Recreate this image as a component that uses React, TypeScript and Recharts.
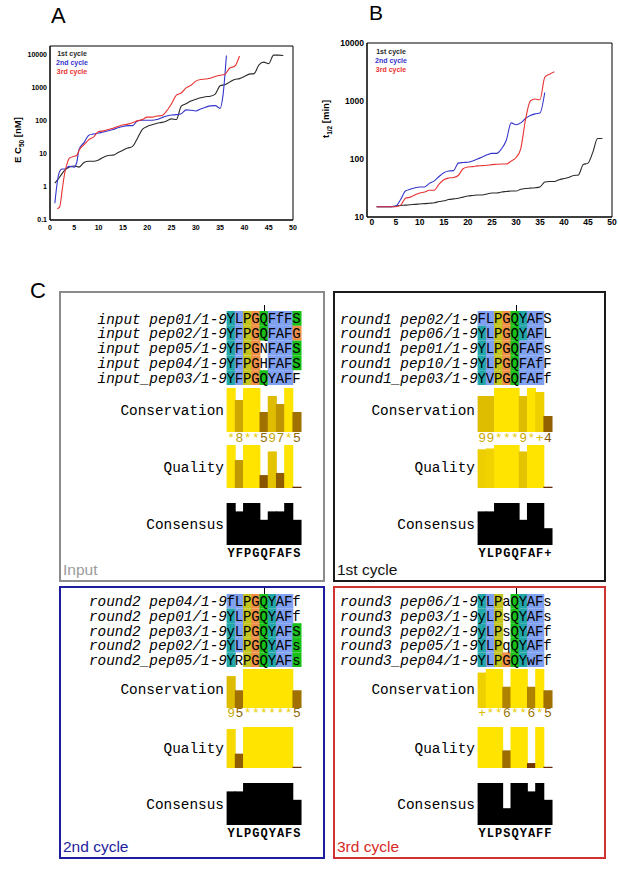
import React from 'react';
import { LineChart, Line, XAxis, YAxis, ReferenceArea, Legend, BarChart, Bar, Cell, LabelList } from 'recharts';

const SANS = '"Liberation Sans", Arial, sans-serif';
const MONO = '"Liberation Mono", "Courier New", monospace';

// ---------------- Panel A : EC50 [nM] ----------------
const aCycle1X = [1,2,3,4,5,6,7,8,9,10,11,12,13,14,15,16,17,18,19,20,21,22,23,24,25,26,27,28,29,30,31,32,33,34,35,36,37,38,39,40,41,42,43,44,45,46,47,48];
const aCycle1Y = [1.3,2.0,3.2,4.0,4.3,4.0,5.5,6.0,6.0,6.6,8.0,9.0,9.2,11,13,15,17,30,55,68,76,85,90,100,115,110,280,330,400,450,500,540,560,650,1150,1250,1500,1800,1900,2200,2600,2700,5000,6000,5400,9800,9800,9500];
const aCycle2X = [1,1.5,2,2.5,3,4,5,5.5,6,7,8,9,10,11,12,13,14,15,16,17,18,19,20,21,22,23,24,25,26,27,28,29,30,31,32,33,34,35,35.6,36.3];
const aCycle2Y = [0.32,1.4,3.0,3.5,3.5,4.2,4.0,5.5,14,22,37,40,43,46,50,55,62,68,72,72,100,105,105,105,110,125,140,150,155,165,215,210,200,230,260,285,290,240,600,9500];
const aCycle3X = [1.5,2,2.5,3,3.5,4,5,5.5,6,7,8,9,10,11,12,13,14,15,16,17,18,19,20,21,22,23,24,25,26,27,28,29,30,31,32,33,34,35,36,37,38,39];
const aCycle3Y = [0.22,0.25,0.8,2.5,5,7.5,8.5,9,13,19,27,33,48,50,55,60,68,75,80,88,100,110,130,130,140,145,200,330,600,700,1000,1200,1600,1800,1850,1950,2200,2400,2600,4000,4500,9200];
const aXTicks = [0,5,10,15,20,25,30,35,40,45,50];
const aYTicks = [0.1,1,10,100,1000,10000];

// ---------------- Panel B : t1/2 [min] ----------------
const bCycle1X = [1,2,3,4,5,6,7,8,9,10,11,12,13,14,15,16,17,18,19,20,21,22,23,24,25,26,27,28,29,30,31,32,33,34,35,36,37,38,39,40,41,42,43,44,45,46,47,48];
const bCycle1Y = [15,15,15,15,15.5,15.8,16,16.3,16.5,16.8,17,17.3,17.6,18.5,19,20,20.5,21,22,23,23.5,24,24,25,26,26,27,27.5,28,28,30,31,31.5,32,33,40,41,41,44,46,48,52,53,80,85,130,225,225];
const bCycle2X = [1,2,3,4,5,6,7,8,9,10,11,12,13,14,15,16,17,18,19,20,21,22,23,24,25,26,27,28,29,30,31,32,33,34,35,36];
const bCycle2Y = [15,15,15,15,15.5,20,28,30,32,33,33,38,42,50,58,62,63,85,87,88,92,100,108,118,125,125,150,210,420,390,420,500,560,600,620,1400];
const bCycle3X = [1,2,3,4,5,6,7,8,9,10,11,12,13,14,15,16,17,18,19,20,21,22,23,24,25,26,27,28,29,30,31,32,33,34,35,36,37,38];
const bCycle3Y = [15,15,15,15,15,16,21,22,24,26,27,29,29,37,44,47,48,52,68,73,74,76,77,78,80,81,82,82,92,105,150,480,1000,1080,1050,2550,2900,3200];
const bXTicks = [0,5,10,15,20,25,30,35,40,45,50];
const bYTicks = [10,100,1000,10000];

const cycleNames = ['1st cycle', '2nd cycle', '3rd cycle'];
const cycleColors = ['#2a2a2a', '#3535cc', '#e83232'];

// ---------------- Panel C : alignments ----------------
const inputNames = ['input pep01/1-9', 'input pep02/1-9', 'input pep05/1-9', 'input pep04/1-9', 'input_pep03/1-9'];
const inputSeqs = ['YLPGQFfFS', 'YFPGQFAFG', 'YFPGNFAFS', 'YFPGHFAFS', 'YFPGQYAFF'];
const inputColors = ['cbyogbbbg', 'cbyogbbbo', 'cbyowbbbg', 'cbyowbbbg', 'cbyogbbbw'];
const inputConservation = [11, 8, 11, 11, 5, 9, 7, 11, 5];
const inputConsLabels = '*8**597*5';
const inputQuality = [1, 0.65, 1, 1, 0.3, 0.85, 0.35, 1, 0.03];
const inputConsensus = [100, 80, 100, 100, 60, 80, 80, 100, 60];
const inputConsensusSeq = 'YFPGQFAFS';

const round1Names = ['round1 pep02/1-9', 'round1 pep06/1-9', 'round1 pep01/1-9', 'round1 pep10/1-9', 'round1_pep03/1-9'];
const round1Seqs = ['FLPGQYAFS', 'YLPGQYAFL', 'YLPGQFAFs', 'YLPGQFAfF', 'YVPGQFAFf'];
const round1Colors = ['bbyogcbbw', 'cbyogcbbw', 'cbyogbbbw', 'cbyogbbbw', 'cbyogbbbw'];
const round1Conservation = [9, 9, 11, 11, 11, 9, 11, 10, 4];
const round1ConsLabels = '99***9*+4';
const round1Quality = [0.9, 0.92, 1, 1, 1, 0.85, 1, 1, 0.03];
const round1Consensus = [80, 80, 100, 100, 100, 60, 100, 100, 40];
const round1ConsensusSeq = 'YLPGQFAF+';

const round2Names = ['round2 pep04/1-9', 'round2 pep01/1-9', 'round2 pep03/1-9', 'round2 pep02/1-9', 'round2_pep05/1-9'];
const round2Seqs = ['fLPGQYAFf', 'YLPGQYAFf', 'yLPGQYAFS', 'YLPGQYAFs', 'YRPGQYAFs'];
const round2Colors = ['bbyogcbbw', 'cbyogcbbw', 'cbyogcbbg', 'cbyogcbbg', 'cwyogcbbg'];
const round2Conservation = [9, 5, 11, 11, 11, 11, 11, 11, 5];
const round2ConsLabels = '95******5';
const round2Quality = [0.95, 0.35, 1, 1, 1, 1, 1, 1, 0.03];
const round2Consensus = [80, 80, 100, 100, 100, 100, 100, 100, 60];
const round2ConsensusSeq = 'YLPGQYAFS';

const round3Names = ['round3 pep06/1-9', 'round3 pep03/1-9', 'round3 pep02/1-9', 'round3 pep05/1-9', 'round3_pep04/1-9'];
const round3Seqs = ['YLPaQYAFs', 'yLPsQYAFs', 'yLPsQYAFf', 'YLPqQYAFf', 'YLPGQYwFf'];
const round3Colors = ['cbywgcbbw', 'cbywgcbbw', 'cbywgcbbw', 'cbywgcbbw', 'cbyogcbbw'];
const round3Conservation = [10, 11, 11, 6, 11, 11, 6, 11, 5];
const round3ConsLabels = '+**6**6*5';
const round3Quality = [1, 1, 1, 0.43, 1, 1, 0.12, 1, 0.03];
const round3Consensus = [100, 100, 100, 40, 100, 100, 80, 100, 60];
const round3ConsensusSeq = 'YLPSQYAFF';

const RESIDUE_COLOR: Record<string, string> = {
  c: '#22a6a8', b: '#80a0f0', y: '#c4c420', o: '#f09048', g: '#18c018', w: 'transparent',
};

function gradColor(f: number, dark = 1) {
  const t = Math.pow(Math.max(0, Math.min(1, f)), 1.2);
  const r = Math.round((100 + 155 * t) * dark);
  const g = Math.round((40 + 188 * t) * dark);
  return `rgb(${r},${g},0)`;
}

const zip = (xs: number[], ys: number[]) => xs.map((x, i) => ({ x, y: ys[i] }));

function LegendContent(props: any) {
  const payload = props.payload || [];
  return (
    <div style={{ fontFamily: SANS, fontSize: 7, fontWeight: 'bold', lineHeight: '9px', textAlign: 'center' }}>
      {payload.map((p: any) => (
        <div key={p.value} style={{ color: p.color }}>{p.value}</div>
      ))}
    </div>
  );
}

function LogPanel(props: any) {
  const { width, height, margin, yAxisWidth, xAxisHeight, xDomain, yDomain, xTicks, yTicks, series, legendStyle, fontSize } = props;
  const tickStyle = { fontSize, fontWeight: 'bold', fill: '#000', fontFamily: SANS };
  return (
    <LineChart width={width} height={height} margin={margin}>
      <XAxis type="number" dataKey="x" domain={xDomain} ticks={xTicks} allowDataOverflow interval={0}
        tickLine={false} tickSize={0} tickMargin={props.xTickMargin} axisLine={{ stroke: '#000' }} tick={tickStyle} height={xAxisHeight} />
      <YAxis type="number" scale="log" domain={yDomain} ticks={yTicks} allowDataOverflow interval={0}
        tickLine={false} tickSize={0} tickMargin={3} axisLine={{ stroke: '#000' }} tick={tickStyle} width={yAxisWidth}
        tickFormatter={(v: number) => String(v)} />
      <ReferenceArea x1={xDomain[0]} x2={xDomain[1]} y1={yDomain[0]} y2={yDomain[1]} fill="none" fillOpacity={0} stroke="#000" strokeWidth={1} />
      {series.map((s: any) => (
        <Line key={s.name} data={s.data} dataKey="y" name={s.name} stroke={s.color} strokeWidth={1.1}
          type="monotone" dot={false} activeDot={false} isAnimationActive={false} />
      ))}
      <Legend layout="vertical" align="center" verticalAlign="middle" content={LegendContent} wrapperStyle={legendStyle} />
    </LineChart>
  );
}

const CELL = 8.45;
const LABEL_W = 150;
const PAD = 5;

function LetterLabel(props: any) {
  const { x, y, width, height, value } = props;
  return (
    <text x={x + width / 2} y={y + height / 2} dy="0.36em" textAnchor="middle" fontFamily={MONO} fontSize={14} fill="#000">
      {value}
    </text>
  );
}

// bar shape that closes the sub-pixel seams between neighbouring columns
function SolidBar(props: any) {
  const { x, y, width, height, fill } = props;
  if (!fill || fill === 'transparent' || !height) return null;
  const top = Math.min(y, y + height);
  return <rect x={x - 0.4} y={top} width={width + 1.7} height={Math.abs(height)} fill={fill} />;
}

function SeqBox({ d, col, lay }: any) {
  const chartLeft = col.seqStart - LABEL_W;
  const chartW = LABEL_W + 9 * CELL;
  const idx = [0, 1, 2, 3, 4, 5, 6, 7, 8];
  const alignData = idx.map((c) => {
    const o: any = { col: c };
    d.seqs.forEach((s: string, r: number) => { o['r' + r] = 1; o['l' + r] = s[c]; });
    return o;
  });
  const consData = idx.map((c) => ({ col: c, v: d.conservation[c] }));
  const qualData = idx.map((c) => ({ col: c, v: d.quality[c] }));
  const conseData = idx.map((c) => ({ col: c, v: d.consensus[c] }));
  const rowLabelTick = { fontFamily: MONO, fontSize: 14.4, fill: '#000' };
  const margin = { top: PAD, right: 2, bottom: PAD, left: 0 };
  const marginNoBottom = { top: PAD, right: 2, bottom: 0, left: 0 };

  const ConsTick = (p: any) => {
    const c = p.payload.value;
    const v = d.conservation[c];
    return (
      <text x={p.x} y={p.y} dy={lay.consLabelDy} textAnchor="middle" fontFamily={MONO} fontSize={13} fill={gradColor(v / 11, 0.9)}>
        {d.consLabels[c]}
      </text>
    );
  };
  const SeqTick = (p: any) => {
    const c = p.payload.value;
    return (
      <text x={p.x} y={p.y} dy={12} textAnchor="middle" fontFamily={MONO} fontSize={12} fontWeight="bold" fill="#000">
        {d.consensusSeq[c]}
      </text>
    );
  };

  return (
    <>
      <div style={{ position: 'absolute', left: col.boxLeft, top: lay.boxTop, width: col.boxW, height: lay.boxH, border: `2px solid ${d.border}`, boxSizing: 'border-box' }} />
      <div style={{ position: 'absolute', left: col.boxLeft + 4, top: lay.titleTop, color: d.titleColor, fontFamily: SANS, fontSize: 15.5, lineHeight: '20px', whiteSpace: 'nowrap' }}>{d.title}</div>
      <div style={{ position: 'absolute', left: col.seqStart + 4.5 * CELL - 0.5, top: lay.tick, width: 1, height: lay.align - lay.tick, background: '#000' }} />

      <div style={{ position: 'absolute', left: chartLeft, top: lay.align - PAD }}>
        <BarChart width={chartW} height={lay.alignH + 2 * PAD} data={alignData} margin={margin} barCategoryGap={0} barGap={0}>
          <XAxis dataKey="col" type="category" hide />
          <YAxis type="number" domain={[0, 5]} reversed ticks={[0.5, 1.5, 2.5, 3.5, 4.5]} width={LABEL_W} interval={0}
            tickLine={false} axisLine={false} tickSize={0} tickMargin={0}
            tickFormatter={(v: number) => d.names[Math.floor(v)]}
            tick={{ ...rowLabelTick, fontStyle: 'italic' }} />
          {d.seqs.map((_: string, r: number) => (
            <Bar key={r} dataKey={'r' + r} stackId="aln" barSize={CELL} isAnimationActive={false} shape={SolidBar}>
              {alignData.map((_e: any, c: number) => (
                <Cell key={c} fill={RESIDUE_COLOR[d.colors[r][c]]} />
              ))}
              <LabelList dataKey={'l' + r} content={LetterLabel} />
            </Bar>
          ))}
        </BarChart>
      </div>

      <div style={{ position: 'absolute', left: chartLeft, top: lay.cons - PAD }}>
        <BarChart width={chartW} height={lay.consH + PAD + 18} data={consData} margin={marginNoBottom} barCategoryGap={0}>
          <XAxis dataKey="col" type="category" axisLine={false} tickLine={false} tickSize={0} tickMargin={0} height={18} interval={0} tick={ConsTick} />
          <YAxis type="number" domain={[0, 11]} ticks={[5.5]} width={LABEL_W} tickLine={false} axisLine={false} tickSize={0} tickMargin={3}
            tickFormatter={() => 'Conservation'} tick={rowLabelTick} />
          <Bar dataKey="v" barSize={CELL} isAnimationActive={false} shape={SolidBar}>
            {consData.map((e, c) => <Cell key={c} fill={gradColor(e.v / 11)} />)}
          </Bar>
        </BarChart>
      </div>

      <div style={{ position: 'absolute', left: chartLeft, top: lay.qual - PAD }}>
        <BarChart width={chartW} height={lay.qualH + 2 * PAD} data={qualData} margin={margin} barCategoryGap={0}>
          <XAxis dataKey="col" type="category" hide />
          <YAxis type="number" domain={[0, 1]} ticks={[0.5]} width={LABEL_W} tickLine={false} axisLine={false} tickSize={0} tickMargin={3}
            tickFormatter={() => 'Quality'} tick={rowLabelTick} />
          <Bar dataKey="v" barSize={CELL} isAnimationActive={false} minPointSize={1} shape={SolidBar}>
            {qualData.map((e, c) => <Cell key={c} fill={gradColor(e.v)} />)}
          </Bar>
        </BarChart>
      </div>

      <div style={{ position: 'absolute', left: chartLeft, top: lay.consensus - PAD }}>
        <BarChart width={chartW} height={lay.consensusH + PAD + 20} data={conseData} margin={marginNoBottom} barCategoryGap={0}>
          <XAxis dataKey="col" type="category" axisLine={false} tickLine={false} tickSize={0} tickMargin={0} height={20} interval={0} tick={SeqTick} />
          <YAxis type="number" domain={[0, 100]} ticks={[50]} width={LABEL_W} tickLine={false} axisLine={false} tickSize={0} tickMargin={3}
            tickFormatter={() => 'Consensus'} tick={rowLabelTick} />
          <Bar dataKey="v" barSize={CELL} fill="#000" isAnimationActive={false} shape={SolidBar} />
        </BarChart>
      </div>
    </>
  );
}

const LEFT_COL = { boxLeft: 59, boxW: 266, seqStart: 226.7 };
const RIGHT_COL = { boxLeft: 333, boxW: 273, seqStart: 478.3 };
const TOP_LAY = { boxTop: 291, boxH: 291, tick: 305, align: 311, alignH: 74, cons: 388, consH: 44, consLabelDy: 10, qual: 445, qualH: 43, consensus: 503, consensusH: 42, titleTop: 560 };
const BOT_LAY = { boxTop: 586, boxH: 273, tick: 588, align: 594, alignH: 73, cons: 669, consH: 39, consLabelDy: 9, qual: 727, qualH: 41, consensus: 783, consensusH: 42, titleTop: 837 };

const boxes = [
  { title: 'Input', titleColor: '#9a9a9a', border: '#8c8c8c', names: inputNames, seqs: inputSeqs, colors: inputColors, conservation: inputConservation, consLabels: inputConsLabels, quality: inputQuality, consensus: inputConsensus, consensusSeq: inputConsensusSeq, col: LEFT_COL, lay: TOP_LAY },
  { title: '1st cycle', titleColor: '#111', border: '#1a1a1a', names: round1Names, seqs: round1Seqs, colors: round1Colors, conservation: round1Conservation, consLabels: round1ConsLabels, quality: round1Quality, consensus: round1Consensus, consensusSeq: round1ConsensusSeq, col: RIGHT_COL, lay: TOP_LAY },
  { title: '2nd cycle', titleColor: '#1e1ea0', border: '#1e1e9c', names: round2Names, seqs: round2Seqs, colors: round2Colors, conservation: round2Conservation, consLabels: round2ConsLabels, quality: round2Quality, consensus: round2Consensus, consensusSeq: round2ConsensusSeq, col: LEFT_COL, lay: BOT_LAY },
  { title: '3rd cycle', titleColor: '#d82828', border: '#d03232', names: round3Names, seqs: round3Seqs, colors: round3Colors, conservation: round3Conservation, consLabels: round3ConsLabels, quality: round3Quality, consensus: round3Consensus, consensusSeq: round3ConsensusSeq, col: RIGHT_COL, lay: BOT_LAY },
];

export default function App() {
  const aSeries = [
    { name: cycleNames[0], color: cycleColors[0], data: zip(aCycle1X, aCycle1Y) },
    { name: cycleNames[1], color: cycleColors[1], data: zip(aCycle2X, aCycle2Y) },
    { name: cycleNames[2], color: cycleColors[2], data: zip(aCycle3X, aCycle3Y) },
  ];
  const bSeries = [
    { name: cycleNames[0], color: cycleColors[0], data: zip(bCycle1X, bCycle1Y) },
    { name: cycleNames[1], color: cycleColors[1], data: zip(bCycle2X, bCycle2Y) },
    { name: cycleNames[2], color: cycleColors[2], data: zip(bCycle3X, bCycle3Y) },
  ];
  return (
    <div style={{ position: 'absolute', left: 0, top: 0, width: 618, height: 877, background: '#fff', overflow: 'hidden' }}>
      <div style={{ position: 'absolute', left: 0, top: 0 }}>
        <LogPanel width={300} height={240} margin={{ top: 46, right: 7, bottom: 0, left: 0 }} yAxisWidth={50} xAxisHeight={20}
          xDomain={[0, 50]} yDomain={[0.1, 18500]} xTicks={aXTicks} yTicks={aYTicks} series={aSeries} fontSize={7} xTickMargin={5}
          legendStyle={{ left: 42, top: 49, width: 60, height: 'auto' }} />
      </div>
      <div style={{ position: 'absolute', left: 300, top: 0 }}>
        <LogPanel width={318} height={240} margin={{ top: 43, right: 6, bottom: 0, left: 0 }} yAxisWidth={67} xAxisHeight={23}
          xDomain={[-1, 50]} yDomain={[10, 10000]} xTicks={bXTicks} yTicks={bYTicks} series={bSeries} fontSize={8.5} xTickMargin={2}
          legendStyle={{ left: 61, top: 47, width: 60, height: 'auto' }} />
      </div>

      <svg style={{ position: 'absolute', left: 0, top: 0 }} width={618} height={305}>
        <text x={51} y={23} fontFamily={SANS} fontSize={22} fill="#000">A</text>
        <text x={369} y={20} fontFamily={SANS} fontSize={21} fill="#000">B</text>
        <text x={30} y={298} fontFamily={SANS} fontSize={22} fill="#000">C</text>
        <text transform="translate(21,140) rotate(-90)" textAnchor="middle" fontFamily={SANS} fontSize={9.5} fontWeight="bold" fill="#000">
          E C<tspan fontSize={6.5} dy={2.5}>50</tspan><tspan dy={-2.5}> [nM]</tspan>
        </text>
        <text transform="translate(329,119) rotate(-90)" textAnchor="middle" fontFamily={SANS} fontSize={9.5} fontWeight="bold" fill="#000">
          t<tspan fontSize={6.5} dy={2.5}>1/2</tspan><tspan dy={-2.5}> [min]</tspan>
        </text>
      </svg>

      {boxes.map((b) => <SeqBox key={b.title} d={b} col={b.col} lay={b.lay} />)}
    </div>
  );
}
